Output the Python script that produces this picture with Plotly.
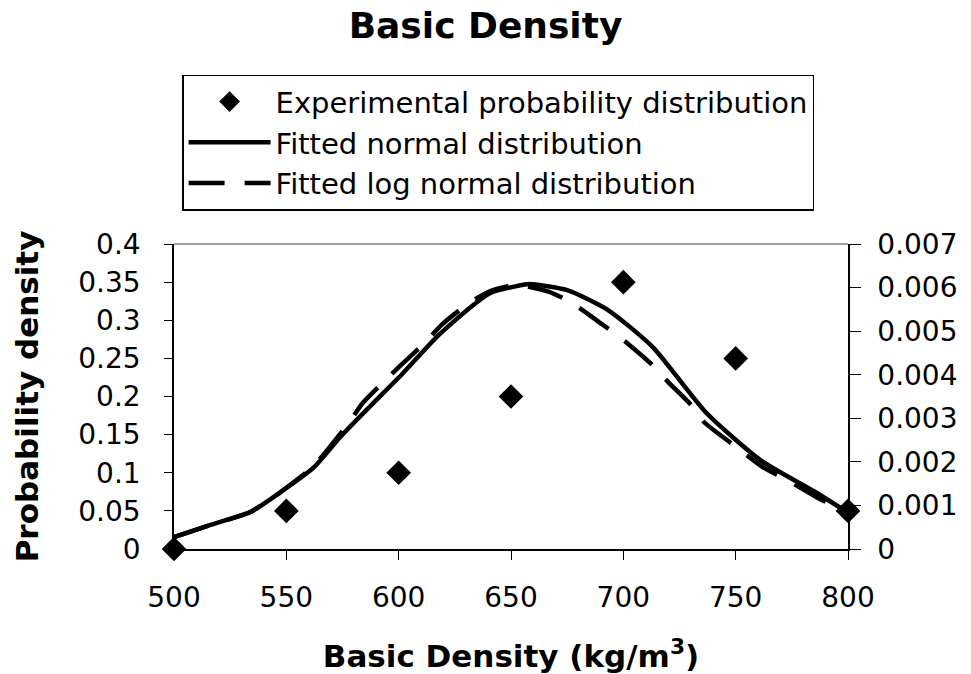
import plotly.graph_objects as go

# Experimental probability distribution (left axis)
exp_x = [500, 550, 600, 650, 700, 750, 800]
exp_y = [0.0, 0.05, 0.1, 0.2, 0.35, 0.25, 0.05]

# Fitted normal distribution (right axis)
norm_x = [500, 516, 534, 547, 562, 574, 587, 602, 617, 632, 641, 653, 658, 675, 693, 713, 737, 761, 786, 800]
norm_y = [0.00027, 0.00055, 0.00085, 0.00129, 0.00186, 0.00257, 0.00326, 0.00404, 0.00487, 0.00555,
          0.00588, 0.00604, 0.00608, 0.00594, 0.00549, 0.00464, 0.00312, 0.00204, 0.00129, 0.00083]

# Fitted log normal distribution (right axis)
logn_x = [500, 516, 534, 547, 562, 578, 584, 595, 601, 612, 619, 632, 642, 653, 667, 677, 691, 699,
          713, 720, 731, 736, 749, 762, 773, 786, 800]
logn_y = [0.00027, 0.00055, 0.00085, 0.00129, 0.0019, 0.00291, 0.00335, 0.00392, 0.00422, 0.00475,
          0.00514, 0.00567, 0.00594, 0.00606, 0.0059, 0.00565, 0.00514, 0.00484, 0.00422, 0.00383,
          0.00326, 0.00291, 0.00239, 0.00188, 0.00158, 0.00119, 0.00083]

left_ticks = [0, 0.05, 0.1, 0.15, 0.2, 0.25, 0.3, 0.35, 0.4]
left_labels = ["0", "0.05", "0.1", "0.15", "0.2", "0.25", "0.3", "0.35", "0.4"]
right_ticks = [0, 0.001, 0.002, 0.003, 0.004, 0.005, 0.006, 0.007]
right_labels = ["0", "0.001", "0.002", "0.003", "0.004", "0.005", "0.006", "0.007"]
x_ticks = [500, 550, 600, 650, 700, 750, 800]

FONT = "DejaVu Sans"

fig = go.Figure()
fig.add_trace(go.Scatter(
    x=exp_x, y=exp_y, mode="markers", name="Experimental probability distribution",
    marker=dict(symbol="diamond", size=19, color="black"), cliponaxis=False, yaxis="y"))
fig.add_trace(go.Scatter(
    x=norm_x, y=norm_y, mode="lines", name="Fitted normal distribution",
    line=dict(color="black", width=4.5, shape="spline", smoothing=0.6), yaxis="y2"))
fig.add_trace(go.Scatter(
    x=logn_x, y=logn_y, mode="lines", name="Fitted log normal distribution",
    line=dict(color="black", width=4.5, dash="36px,20px", shape="spline", smoothing=0.6), yaxis="y2"))

fig.update_layout(
    width=971, height=674,
    margin=dict(l=174, r=123, t=244, b=125),
    paper_bgcolor="white", plot_bgcolor="white",
    font=dict(family=FONT, color="black", size=28),
    title=dict(text="<b>Basic Density</b>", x=0.5, xanchor="center", y=0.962, yanchor="middle",
               font=dict(family=FONT, size=36, color="black")),
    xaxis=dict(range=[500, 800], tickvals=x_ticks, ticks="outside", ticklen=9, tickcolor="black",
               showline=True, linecolor="black", linewidth=1.5, showgrid=False, zeroline=False,
               tickfont=dict(size=28), ticklabelstandoff=14, automargin=False,
               title=dict(text="<b>Basic Density (kg/m<sup>3</sup>)</b>", font=dict(size=31), standoff=35)),
    yaxis=dict(range=[0, 0.4], tickvals=left_ticks, ticktext=left_labels, ticks="outside", ticklen=8,
               tickcolor="black", showline=True, linecolor="black", linewidth=1.5, showgrid=False,
               zeroline=False, tickfont=dict(size=28), ticklabelstandoff=18, automargin=False,
               title=dict(text="<b>Probability density</b>", font=dict(size=31), standoff=30)),
    yaxis2=dict(range=[0, 0.007], tickvals=right_ticks, ticktext=right_labels, overlaying="y",
                side="right", ticks="outside", ticklen=11, tickcolor="black", showline=True,
                linecolor="black", linewidth=1.5, showgrid=False, zeroline=False,
                tickfont=dict(size=28), ticklabelstandoff=11, automargin=False),
    legend=dict(x=0.012, y=1.555, xanchor="left", yanchor="top", bgcolor="white",
                bordercolor="black", borderwidth=1.5, font=dict(size=29), tracegroupgap=0,
                itemwidth=82),
    showlegend=True,
    shapes=[dict(type="line", xref="paper", yref="paper", x0=0, x1=1, y0=1, y1=1,
                 line=dict(color="#808080", width=1.5))],
)

fig.write_html("out.html")
